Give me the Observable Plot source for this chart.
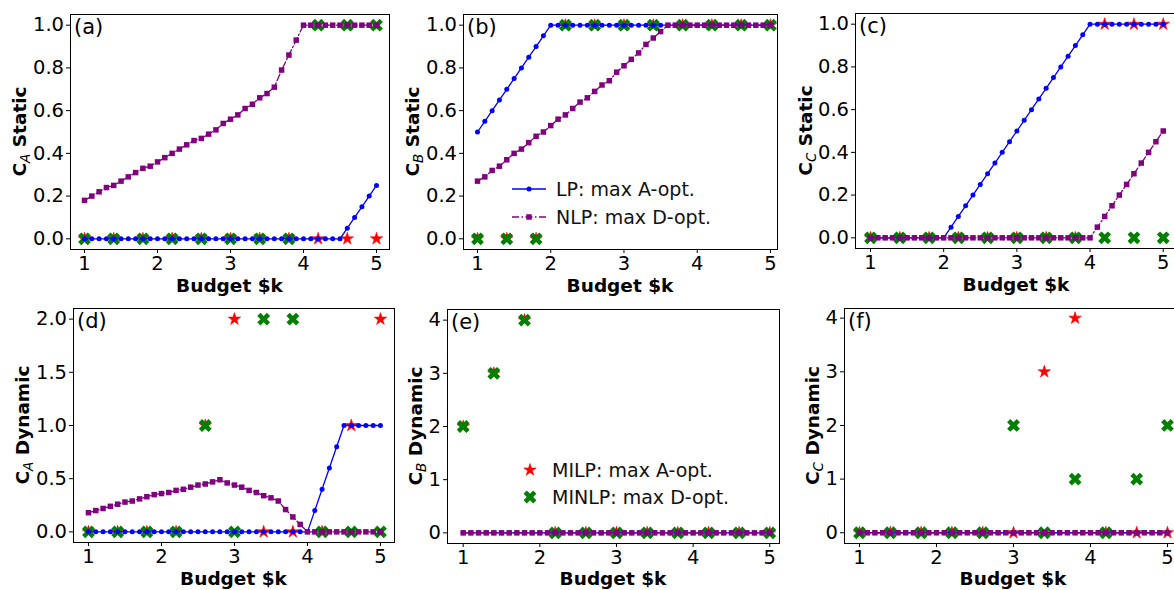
<!DOCTYPE html>
<html><head><meta charset="utf-8">
<script src="https://cdn.jsdelivr.net/npm/d3@7"></script>
<script src="https://cdn.jsdelivr.net/npm/@observablehq/plot@0.6"></script>
<style>
html,body{margin:0;padding:0;background:#fff;overflow:hidden;}
#chart{position:relative;width:1174px;height:590px;overflow:hidden;background:#fff;font-family:"DejaVu Sans",sans-serif;}
#chart svg{position:absolute;}
</style></head><body><div id="chart"></div>
<script>
// ---------- data ----------
const budget = [1.0,1.1,1.2,1.3,1.4,1.5,1.6,1.7,1.8,1.9,2.0,2.1,2.2,2.3,2.4,2.5,2.6,2.7,2.8,2.9,3.0,3.1,3.2,3.3,3.4,3.5,3.6,3.7,3.8,3.9,4.0,4.1,4.2,4.3,4.4,4.5,4.6,4.7,4.8,4.9,5.0];
const budgetMI = [1.0,1.4,1.8,2.2,2.6,3.0,3.4,3.8,4.2,4.6,5.0];

const lpAStatic  = [0,0,0,0,0,0,0,0,0,0, 0,0,0,0,0,0,0,0,0,0, 0,0,0,0,0,0,0,0,0,0, 0,0,0,0,0,0, 0.05,0.10,0.15,0.20,0.25];
const nlpAStatic = [0.18,0.20,0.22,0.24,0.25,0.27,0.29,0.31,0.33,0.34, 0.36,0.38,0.40,0.42,0.44,0.46,0.47,0.49,0.51,0.54, 0.56,0.58,0.61,0.63,0.66,0.68,0.71,0.79,0.86,0.93, 1.0, 1,1,1,1,1,1,1,1,1,1];
const lpBStatic  = [0.50,0.55,0.60,0.65,0.70,0.75,0.80,0.85,0.90,0.95, 1,1,1,1,1,1,1,1,1,1, 1,1,1,1,1,1,1,1,1,1, 1,1,1,1,1,1,1,1,1,1, 1];
const nlpBStatic = [0.27,0.29,0.32,0.34,0.37,0.40,0.42,0.45,0.48,0.50, 0.53,0.56,0.58,0.61,0.64,0.66,0.69,0.72,0.74,0.78, 0.81,0.84,0.87,0.91,0.94,0.97,1.0,1,1,1, 1,1,1,1,1,1,1,1,1,1, 1];
const lpCStatic  = [0,0,0,0,0,0,0,0,0,0, 0,0.05,0.10,0.15,0.20,0.25,0.30,0.35,0.40,0.45, 0.50,0.55,0.60,0.65,0.70,0.75,0.80,0.85,0.90,0.95, 1.0,1,1,1,1,1,1,1,1,1, 1];
const nlpCStatic = [0,0,0,0,0,0,0,0,0,0, 0,0,0,0,0,0,0,0,0,0, 0,0,0,0,0,0,0,0,0,0, 0, 0.05,0.10,0.15,0.20,0.25,0.30,0.35,0.40,0.45,0.50];
const lpADyn     = [0,0,0,0,0,0,0,0,0,0, 0,0,0,0,0,0,0,0,0,0, 0,0,0,0,0,0,0,0,0,0, 0, 0.2,0.4,0.6,0.8,1.0,1,1,1,1,1];
const nlpADyn    = [0.18,0.20,0.22,0.24,0.26,0.28,0.29,0.31,0.33,0.35, 0.36,0.37,0.39,0.40,0.42,0.44,0.45,0.47,0.49,0.46, 0.44,0.42,0.39,0.37,0.34,0.32,0.29,0.21,0.14,0.07, 0, 0,0,0,0,0,0,0,0,0,0];
const lpBDyn     = [0,0,0,0,0,0,0,0,0,0, 0,0,0,0,0,0,0,0,0,0, 0,0,0,0,0,0,0,0,0,0, 0,0,0,0,0,0,0,0,0,0, 0];
const nlpBDyn    = [0,0,0,0,0,0,0,0,0,0, 0,0,0,0,0,0,0,0,0,0, 0,0,0,0,0,0,0,0,0,0, 0,0,0,0,0,0,0,0,0,0, 0];
const lpCDyn     = [0,0,0,0,0,0,0,0,0,0, 0,0,0,0,0,0,0,0,0,0, 0,0,0,0,0,0,0,0,0,0, 0,0,0,0,0,0,0,0,0,0, 0];
const nlpCDyn    = [0,0,0,0,0,0,0,0,0,0, 0,0,0,0,0,0,0,0,0,0, 0,0,0,0,0,0,0,0,0,0, 0,0,0,0,0,0,0,0,0,0, 0];

const milpAStatic  = [0,0,0,0,0,0,0,0,0,0,0];
const minlpAStatic = [0,0,0,0,0,0,0,0,1,1,1];
const milpBStatic  = [0,0,0,1,1,1,1,1,1,1,1];
const minlpBStatic = [0,0,0,1,1,1,1,1,1,1,1];
const milpCStatic  = [0,0,0,0,0,0,0,0,1,1,1];
const minlpCStatic = [0,0,0,0,0,0,0,0,0,0,0];
const milpADyn     = [0,0,0,0,1,2,0,0,0,1,2];
const minlpADyn    = [0,0,0,0,1,0,2,2,0,0,0];
const milpBDyn     = [2,3,4,0,0,0,0,0,0,0,0];
const minlpBDyn    = [2,3,4,0,0,0,0,0,0,0,0];
const milpCDyn     = [0,0,0,0,0,0,3,4,0,0,0];
const minlpCDyn    = [0,0,0,0,0,2,0,1,0,1,2];

const xTicks = [1,2,3,4,5];
const xTickLabels = ["1","2","3","4","5"];
const yTicksStatic = [0,0.2,0.4,0.6,0.8,1.0];
const yTickLabelsStatic = ["0.0","0.2","0.4","0.6","0.8","1.0"];
const yTicksADyn = [0,0.5,1.0,1.5,2.0];
const yTickLabelsADyn = ["0.0","0.5","1.0","1.5","2.0"];
const yTicksCount = [0,1,2,3,4];
const yTickLabelsCount = ["0","1","2","3","4"];

const panelTags = ["(a)","(b)","(c)","(d)","(e)","(f)"];
const yLabelVars = ["A","B","C","A","B","C"];
const yLabelKinds = ["Static","Static","Static","Dynamic","Dynamic","Dynamic"];
const xLabel = "Budget $k";
const seriesNames = ["LP: max A-opt.","NLP: max D-opt.","MILP: max A-opt.","MINLP: max D-opt."];

// ---------- layout (pixels) ----------
const layout = [
  {fl:70,  fr:389,  ft:14,  fb:249, xd:[0.808,5.178], yd:[-0.05,1.05], lo:44.5, xo:43},
  {fl:463, fr:777,  ft:14,  fb:249, xd:[0.809,5.096], yd:[-0.05,1.05], lo:44.5, xo:43},
  {fl:855, fr:1177, ft:13,  fb:248, xd:[0.795,5.195], yd:[-0.05,1.05], lo:43.5, xo:43},
  {fl:73,  fr:394,  ft:308, fb:542, xd:[0.795,5.192], yd:[-0.1,2.1],  lo:44.5, xo:42.5},
  {fl:447, fr:779,  ft:309, fb:543, xd:[0.795,5.127], yd:[-0.2,4.2],  lo:25.5, xo:41.5},
  {fl:844, fr:1182, ft:308, fb:543, xd:[0.805,5.195], yd:[-0.2,4.18], lo:25.5, xo:41.5}
];
const series = [
  {lp:lpAStatic, nlp:nlpAStatic, milp:milpAStatic, minlp:minlpAStatic, yt:yTicksStatic, ytl:yTickLabelsStatic},
  {lp:lpBStatic, nlp:nlpBStatic, milp:milpBStatic, minlp:minlpBStatic, yt:yTicksStatic, ytl:yTickLabelsStatic},
  {lp:lpCStatic, nlp:nlpCStatic, milp:milpCStatic, minlp:minlpCStatic, yt:yTicksStatic, ytl:yTickLabelsStatic},
  {lp:lpADyn, nlp:nlpADyn, milp:milpADyn, minlp:minlpADyn, yt:yTicksADyn, ytl:yTickLabelsADyn},
  {lp:lpBDyn, nlp:nlpBDyn, milp:milpBDyn, minlp:minlpBDyn, yt:yTicksCount, ytl:yTickLabelsCount},
  {lp:lpCDyn, nlp:nlpCDyn, milp:milpCDyn, minlp:minlpCDyn, yt:yTicksCount, ytl:yTickLabelsCount}
];

const FONT = "DejaVu Sans";
const TICK_FS = 19.5;
const LABEL_FS = 18.5;
const colors = {lp:"#0000ff", nlp:"#800080", milp:"#ff0000", minlp:"#008000"};

// matplotlib-like filled "X" marker
const xPts = [[-1,-2],[0,-1],[1,-2],[2,-1],[1,0],[2,1],[1,2],[0,1],[-1,2],[-2,1],[-1,0],[-2,-1]];
const symbolXFilled = {
  draw(ctx, size) {
    const s = Math.sqrt(size / Math.PI) / 2;
    ctx.moveTo(xPts[0][0]*s, xPts[0][1]*s);
    for (let i = 1; i < xPts.length; i++) ctx.lineTo(xPts[i][0]*s, xPts[i][1]*s);
    ctx.closePath();
  }
};
const STAR_R = 3.9, X_R = 6.4, DOT_R = 2.5, SQ_R = 3.1;
const DASHDOT = "7,2.5,1.5,2.5";

const chart = document.getElementById("chart");
const mL = 70, mT = 14, mR = 6, mB = 56;

layout.forEach((L, k) => {
  const S = series[k];
  const fw = L.fr - L.fl, fh = L.fb - L.ft;
  const lpData = budget.map((x, i) => ({x, y: S.lp[i]}));
  const nlpData = budget.map((x, i) => ({x, y: S.nlp[i]}));
  const milpData = budgetMI.map((x, i) => ({x, y: S.milp[i]}));
  const minlpData = budgetMI.map((x, i) => ({x, y: S.minlp[i]}));
  const svg = Plot.plot({
    width: mL + fw + mR,
    height: mT + fh + mB,
    marginLeft: mL, marginTop: mT, marginRight: mR, marginBottom: mB,
    x: {domain: L.xd, label: null},
    y: {domain: L.yd, label: null},
    style: {fontFamily: FONT, fontSize: TICK_FS + "px", background: "transparent", overflow: "visible", color: "black"},
    marks: [
      Plot.dot(milpData, {x: "x", y: "y", symbol: "star", r: STAR_R, fill: colors.milp, stroke: colors.milp, strokeWidth: 0.6}),
      Plot.dot(minlpData, {x: "x", y: "y", symbol: symbolXFilled, r: X_R, fill: colors.minlp, stroke: "none"}),
      Plot.line(lpData, {x: "x", y: "y", stroke: colors.lp, strokeWidth: 1.3}),
      Plot.dot(lpData, {x: "x", y: "y", r: DOT_R, fill: colors.lp, stroke: "none"}),
      Plot.line(nlpData, {x: "x", y: "y", stroke: colors.nlp, strokeWidth: 1.3, strokeDasharray: DASHDOT}),
      Plot.dot(nlpData, {x: "x", y: "y", symbol: "square", r: SQ_R, fill: colors.nlp, stroke: "none"}),
      Plot.frame({stroke: "black", strokeWidth: 1}),
      Plot.axisX({ticks: xTicks, tickFormat: d => xTickLabels[xTicks.indexOf(d)], tickSize: 4, tickPadding: 3, label: null}),
      Plot.axisY({ticks: S.yt, tickFormat: d => S.ytl[S.yt.indexOf(d)], tickSize: 4, tickPadding: 2.5, label: null})
    ]
  });
  svg.style.left = (L.fl - mL) + "px";
  svg.style.top = (L.ft - mT) + "px";
  const sel = d3.select(svg);
  // panel tag
  sel.append("text")
    .attr("x", mL + 4).attr("y", mT + 20)
    .attr("text-anchor", "start")
    .attr("font-family", FONT).attr("font-size", 21).attr("fill", "black")
    .text(panelTags[k]);
  // x label
  sel.append("text")
    .attr("x", mL + fw / 2).attr("y", mT + fh + L.xo)
    .attr("text-anchor", "middle")
    .attr("font-family", FONT).attr("font-size", LABEL_FS).attr("font-weight", "bold").attr("fill", "black")
    .text(xLabel);
  // y label with subscript
  const yl = sel.append("text")
    .attr("transform", `translate(${mL - L.lo},${mT + fh / 2}) rotate(-90)`)
    .attr("text-anchor", "middle")
    .attr("font-family", FONT).attr("font-size", LABEL_FS).attr("font-weight", "bold").attr("fill", "black");
  yl.append("tspan").text("C");
  yl.append("tspan").attr("dy", 4).attr("font-size", 13.5).attr("font-weight", "normal").attr("font-style", "italic").text(yLabelVars[k]);
  yl.append("tspan").attr("dy", -4).text(" " + yLabelKinds[k]);
  chart.appendChild(svg);
});

// ---------- legends ----------
const leg = d3.select(chart).append("svg")
  .attr("width", 1174).attr("height", 590)
  .style("left", "0px").style("top", "0px").style("pointer-events", "none");

function legendText(x, y, t) {
  leg.append("text").attr("x", x).attr("y", y + 7).attr("text-anchor", "start")
    .attr("font-family", FONT).attr("font-size", 19).attr("fill", "#111").text(t);
}
// legend 1 (panel b): lines
leg.append("line").attr("x1", 512).attr("x2", 546).attr("y1", 189).attr("y2", 189)
  .attr("stroke", colors.lp).attr("stroke-width", 1.3);
leg.append("circle").attr("cx", 529).attr("cy", 189).attr("r", DOT_R).attr("fill", colors.lp);
legendText(556, 189, seriesNames[0]);
leg.append("line").attr("x1", 512).attr("x2", 546).attr("y1", 217).attr("y2", 217)
  .attr("stroke", colors.nlp).attr("stroke-width", 1.3).attr("stroke-dasharray", DASHDOT);
leg.append("rect").attr("x", 529 - 2.75).attr("y", 217 - 2.75).attr("width", 5.5).attr("height", 5.5).attr("fill", colors.nlp);
legendText(556, 217, seriesNames[1]);
// legend 2 (panel e): markers
leg.append("path").attr("transform", "translate(530,470)")
  .attr("d", d3.symbol(d3.symbolStar, STAR_R * STAR_R * Math.PI)())
  .attr("fill", colors.milp).attr("stroke", colors.milp).attr("stroke-width", 0.6);
legendText(552, 470, seriesNames[2]);
leg.append("path").attr("transform", "translate(530,497)")
  .attr("d", d3.symbol(symbolXFilled, X_R * X_R * Math.PI)())
  .attr("fill", colors.minlp);
legendText(552, 497, seriesNames[3]);
</script>
</body></html>
